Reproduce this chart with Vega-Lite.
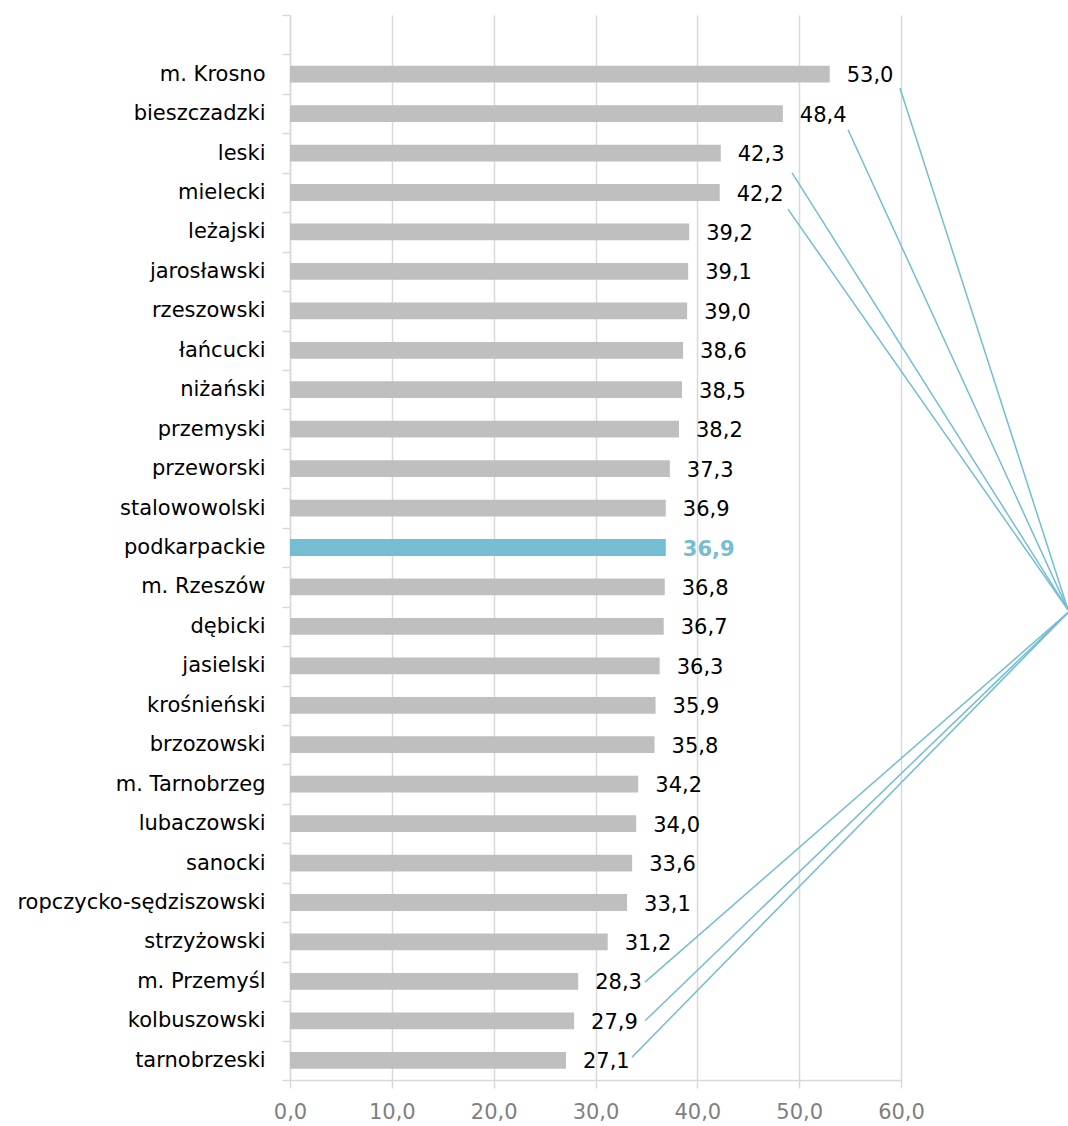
{
  "$schema": "https://vega.github.io/schema/vega-lite/v6.json",
  "width": 611,
  "height": 1065,
  "autosize": {"type": "none"},
  "padding": {"left": 290, "top": 15, "right": 167, "bottom": 46},
  "background": "white",
  "config": {
    "view": {"stroke": null},
    "locale": {"number": {"decimal": ",", "thousands": "\u00a0", "grouping": [3], "currency": ["", " zł"]}},
    "font": "DejaVu Sans",
    "axisX": {
      "grid": true,
      "gridColor": "#d9d9d9",
      "gridWidth": 1.5,
      "domainColor": "#d9d9d9",
      "domainWidth": 1.5,
      "tickColor": "#d9d9d9",
      "tickWidth": 1.5,
      "tickSize": 8,
      "labelFont": "DejaVu Sans",
      "labelFontSize": 21,
      "labelColor": "#7f7f7f",
      "labelPadding": 13,
      "labelFlush": false
    }
  },
  "datasets": {
    "bars": [
      {"name": "m. Krosno", "value": 53.0},
      {"name": "bieszczadzki", "value": 48.4},
      {"name": "leski", "value": 42.3},
      {"name": "mielecki", "value": 42.2},
      {"name": "leżajski", "value": 39.2},
      {"name": "jarosławski", "value": 39.1},
      {"name": "rzeszowski", "value": 39.0},
      {"name": "łańcucki", "value": 38.6},
      {"name": "niżański", "value": 38.5},
      {"name": "przemyski", "value": 38.2},
      {"name": "przeworski", "value": 37.3},
      {"name": "stalowowolski", "value": 36.9},
      {"name": "podkarpackie", "value": 36.9},
      {"name": "m. Rzeszów", "value": 36.8},
      {"name": "dębicki", "value": 36.7},
      {"name": "jasielski", "value": 36.3},
      {"name": "krośnieński", "value": 35.9},
      {"name": "brzozowski", "value": 35.8},
      {"name": "m. Tarnobrzeg", "value": 34.2},
      {"name": "lubaczowski", "value": 34.0},
      {"name": "sanocki", "value": 33.6},
      {"name": "ropczycko-sędziszowski", "value": 33.1},
      {"name": "strzyżowski", "value": 31.2},
      {"name": "m. Przemyśl", "value": 28.3},
      {"name": "kolbuszowski", "value": 27.9},
      {"name": "tarnobrzeski", "value": 27.1}
    ],
    "leaders": [
      {"label": "53,0", "x1": 59.9, "y1": 25.15, "x2": 76.4, "y2": 11.92},
      {"label": "48,4", "x1": 54.8, "y1": 24.09, "x2": 76.4, "y2": 11.92},
      {"label": "42,3", "x1": 49.3, "y1": 23.0, "x2": 76.4, "y2": 11.92},
      {"label": "42,2", "x1": 48.9, "y1": 22.08, "x2": 76.4, "y2": 11.92},
      {"label": "28,3", "x1": 34.86, "y1": 2.48, "x2": 76.4, "y2": 11.85},
      {"label": "27,9", "x1": 34.86, "y1": 1.5, "x2": 76.4, "y2": 11.85},
      {"label": "27,1", "x1": 33.59, "y1": 0.58, "x2": 76.4, "y2": 11.85}
    ]
  },
  "layer": [
    {
      "data": {"name": "bars"},
      "encoding": {
        "y": {
          "field": "name",
          "type": "nominal",
          "sort": null,
          "scale": {
            "domain": [" ", "m. Krosno", "bieszczadzki", "leski", "mielecki", "leżajski", "jarosławski", "rzeszowski", "łańcucki", "niżański", "przemyski", "przeworski", "stalowowolski", "podkarpackie", "m. Rzeszów", "dębicki", "jasielski", "krośnieński", "brzozowski", "m. Tarnobrzeg", "lubaczowski", "sanocki", "ropczycko-sędziszowski", "strzyżowski", "m. Przemyśl", "kolbuszowski", "tarnobrzeski"],
            "paddingInner": 0,
            "paddingOuter": 0
          },
          "axis": {
            "title": null,
            "grid": false,
            "tickBand": "extent",
            "tickSize": 8,
            "tickColor": "#d9d9d9",
            "tickWidth": 1.5,
            "domainColor": "#d9d9d9",
            "domainWidth": 1.5,
            "labelFont": "DejaVu Sans",
            "labelFontSize": 21,
            "labelColor": "#000000",
            "labelPadding": 17,
            "labelLimit": 400
          }
        },
        "x": {
          "field": "value",
          "type": "quantitative",
          "scale": {"domain": [0, 60], "nice": false, "zero": true},
          "axis": {"title": null, "values": [0, 10, 20, 30, 40, 50, 60], "format": ".1f"}
        }
      },
      "layer": [
        {
          "mark": {"type": "bar", "height": {"band": 0.425}},
          "encoding": {
            "color": {
              "condition": {"test": "datum.name === 'podkarpackie'", "value": "#74bdd3"},
              "value": "#bfbfbf"
            }
          }
        },
        {
          "transform": [{"filter": "datum.name !== 'podkarpackie'"}],
          "mark": {"type": "text", "align": "left", "baseline": "middle", "dx": 17, "dy": 2, "font": "DejaVu Sans", "fontSize": 21, "color": "#000000"},
          "encoding": {
            "text": {"field": "value", "type": "quantitative", "format": ".1f"}
          }
        },
        {
          "transform": [{"filter": "datum.name === 'podkarpackie'"}],
          "mark": {"type": "text", "align": "left", "baseline": "middle", "dx": 17, "dy": 2, "font": "DejaVu Sans", "fontSize": 21, "fontWeight": "bold", "color": "#74bdd3"},
          "encoding": {
            "text": {"field": "value", "type": "quantitative", "format": ".1f"}
          }
        }
      ]
    },
    {
      "data": {"name": "leaders"},
      "mark": {"type": "rule", "color": "#74bdd3", "strokeWidth": 1.5},
      "encoding": {
        "x": {
          "field": "x1",
          "type": "quantitative",
          "scale": {"domain": [0, 60], "nice": false, "zero": true},
          "axis": {"title": null, "values": [0, 10, 20, 30, 40, 50, 60], "format": ".1f"}
        },
        "x2": {"field": "x2"},
        "y": {"field": "y1", "type": "quantitative", "scale": {"domain": [0, 27], "nice": false, "zero": true}, "axis": null},
        "y2": {"field": "y2"}
      }
    }
  ],
  "resolve": {"scale": {"y": "independent"}, "axis": {"y": "independent"}}
}
